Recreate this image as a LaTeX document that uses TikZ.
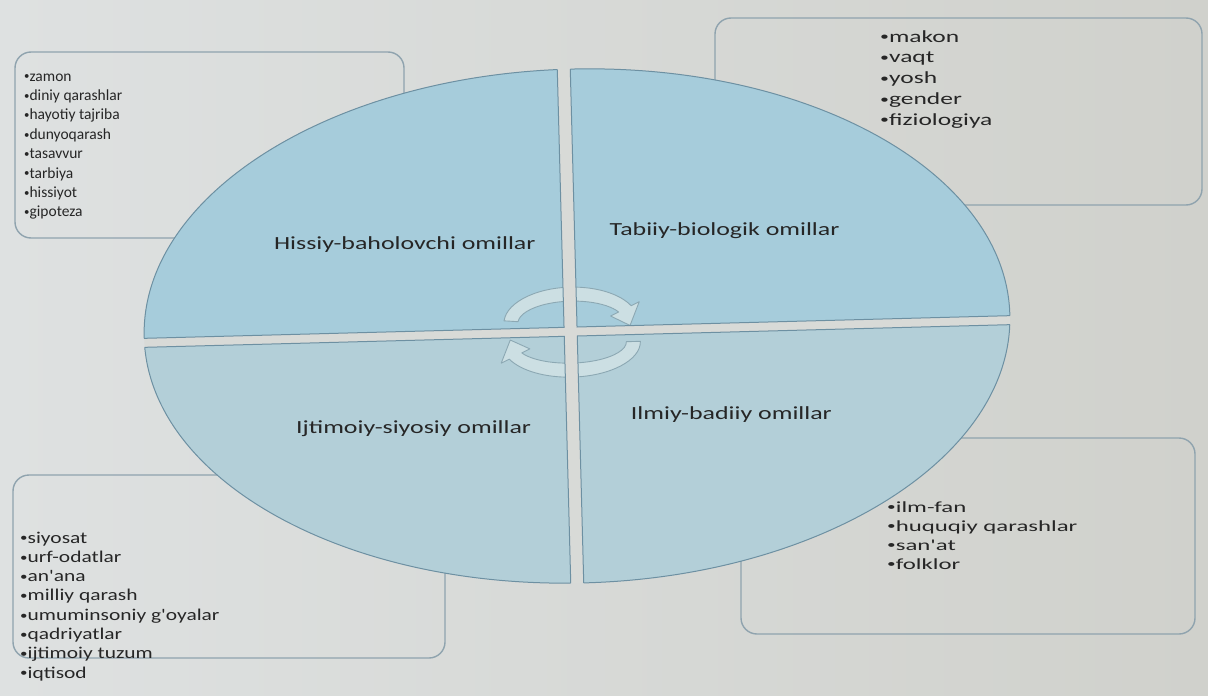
\documentclass[tikz,border=0pt]{standalone}
\usepackage{fontspec}
\setmainfont{Carlito}
\newfontfamily\tlfont{Carlito}
\newfontfamily\trfont[FakeStretch=1.5]{Carlito}
\newfontfamily\blfont[FakeStretch=1.3]{Carlito}
\newfontfamily\brfont[FakeStretch=1.6]{Carlito}
\newfontfamily\labfont[FakeStretch=1.4]{Carlito}
\usetikzlibrary{calc}
\newcommand{\smallbul}{\raisebox{0.15ex}{\scalebox{0.7}{\textbullet}}}
\definecolor{paperL}{HTML}{DEE1E1}
\definecolor{paperR}{HTML}{D0D1CC}
\definecolor{paper}{HTML}{D8DAD7}
\definecolor{boxline}{HTML}{8FA3AE}
\definecolor{quadtop}{HTML}{A6CCDB}
\definecolor{quadlow}{HTML}{B3CFD8}
\definecolor{quadline}{HTML}{6D90A2}
\definecolor{arrowfill}{HTML}{CCDFE3}
\definecolor{arrowline}{HTML}{8CA8B3}
\definecolor{ink}{HTML}{262626}

\begin{document}
\begin{tikzpicture}[x=1pt,y=-1pt,
  listbox/.style={draw=boxline,line width=1.4pt,rounded corners=16pt},
  listitem/.style={anchor=base west,inner sep=0pt,text=ink},
  quadlabel/.style={inner sep=0pt,text=ink,font={\labfont\fontsize{18.5}{20}\selectfont}},
  curlarrow/.style={fill=arrowfill,draw=arrowline,line width=0.9pt,line join=round}]
  \useasboundingbox (0,0) rectangle (1208,696);
  \shade[left color=paperL,right color=paperR] (0,0) rectangle (1208,696);

  % the four frames behind the oval
  \draw[listbox] (15,52) rectangle (404,238);
  \draw[listbox] (715,18) rectangle (1202,205);
  \draw[listbox] (13,475) rectangle (445,658);
  \draw[listbox] (741,438) rectangle (1195,634);

  \begin{scope}[rotate around={1.5:(577,326)}]
    % quarters of the oval
    \foreach \xa/\ya/\xb/\yb/\qcol in {100/0/564/327/quadtop, 577/0/1100/327/quadtop,
        100/336/564/700/quadlow, 577/336/1100/700/quadlow} {
      \begin{scope}
        \clip (\xa,\ya) rectangle (\xb,\yb);
        \fill[\qcol] (577,326) ellipse [x radius=433, y radius=257];
      \end{scope}
    }
    % turning arrows in the middle
    \coordinate (topc) at (571,322);
    \coordinate (lowc) at (571,343);
    \filldraw[curlarrow] ($(topc)+(185:53 and 21)$) -- ($(topc)+(185:67 and 35)$)
        arc[start angle=185, end angle=335, x radius=67, y radius=35]
        -- ($(topc)+(335:76 and 44)$) -- ($(topc)+(10:60 and 28)$)
        -- ($(topc)+(335:44 and 12)$) -- ($(topc)+(335:53 and 21)$)
        arc[start angle=335, end angle=185, x radius=53, y radius=21] -- cycle;
    \filldraw[curlarrow] ($(lowc)+(0:55 and 20)$) -- ($(lowc)+(0:69 and 34)$)
        arc[start angle=0, end angle=155, x radius=69, y radius=34]
        -- ($(lowc)+(155:78 and 43)$) -- ($(lowc)+(190:62 and 27)$)
        -- ($(lowc)+(155:46 and 11)$) -- ($(lowc)+(155:55 and 20)$)
        arc[start angle=155, end angle=0, x radius=55, y radius=20] -- cycle;
    % gaps between the quarters
    \begin{scope}
      \clip (577,326) ellipse [x radius=433, y radius=257];
      \fill[paper] (100,327) rectangle (1100,336);
      \fill[paper] (564,0) rectangle (577,700);
    \end{scope}
    \foreach \xa/\ya/\xb/\yb in {100/0/564/327, 577/0/1100/327,
        100/336/564/700, 577/336/1100/700} {
      \begin{scope}
        \clip (\xa,\ya) rectangle (\xb,\yb);
        \draw[quadline,line width=1pt] (577,326) ellipse [x radius=433, y radius=257];
      \end{scope}
      \begin{scope}
        \clip (577,326) ellipse [x radius=433, y radius=257];
        \draw[quadline,line width=1pt] (\xa,\ya) rectangle (\xb,\yb);
      \end{scope}
    }
    \node[quadlabel] (hissiy) at (407,240) {Hissiy-baholovchi omillar};
    \node[quadlabel] (tabiiy) at (727,235) {Tabiiy-biologik omillar};
    \node[quadlabel] (ijtimoiy) at (411,424) {Ijtimoiy-siyosiy omillar};
    \node[quadlabel] (ilmiy) at (729,419) {Ilmiy-badiiy omillar};
  \end{scope}

  % lists
  \foreach \word [count=\i] in {zamon, diniy qarashlar, hayotiy tajriba, dunyoqarash,
      tasavvur, tarbiya, hissiyot, gipoteza}
    \node[listitem,font={\tlfont\fontsize{15.5}{18}\selectfont}] (tl\i)
      at (24,{81+(\i-1)*19.4}) {\smallbul\word};
  \foreach \word [count=\i] in {makon, vaqt, yosh, gender, fiziologiya}
    \node[listitem,font={\trfont\fontsize{17}{20}\selectfont}] (tr\i)
      at (880,{42+(\i-1)*20.75}) {\smallbul\word};
  \foreach \word [count=\i] in {siyosat, urf-odatlar, an'ana, milliy qarash,
      umuminsoniy g'oyalar, qadriyatlar, ijtimoiy tuzum, iqtisod}
    \node[listitem,font={\blfont\fontsize{16.5}{19}\selectfont}] (bl\i)
      at (20,{543+(\i-1)*19.3}) {\smallbul\word};
  \foreach \word [count=\i] in {ilm-fan, huquqiy qarashlar, san'at, folklor}
    \node[listitem,font={\brfont\fontsize{15.5}{19}\selectfont}] (br\i)
      at (887,{512+(\i-1)*19}) {\smallbul\word};
\end{tikzpicture}
\end{document}
